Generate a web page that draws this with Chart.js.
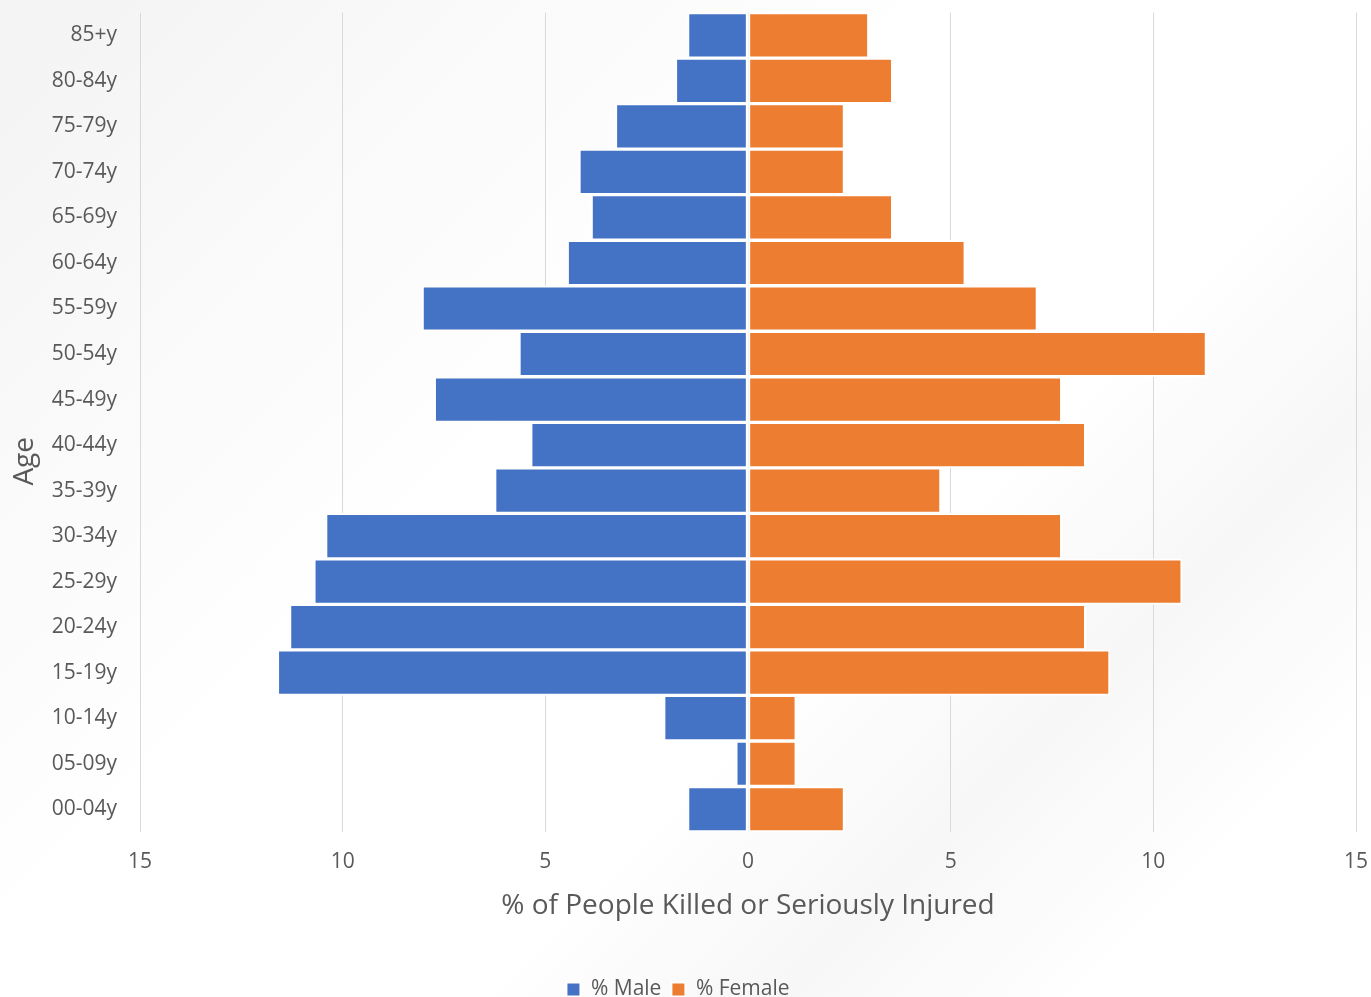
<!DOCTYPE html>
<html>
<head>
<meta charset="utf-8">
<script src="https://cdn.jsdelivr.net/npm/chart.js@4.4.1/dist/chart.umd.min.js"></script>
<style>
    html, body { margin: 0; padding: 0; overflow: hidden; }
    body {
        width: 1371px; height: 997px;
        background: linear-gradient(135deg, #f3f3f3 0%, #fafafa 22%, #ffffff 40%, #ffffff 62%, #f7f7f7 75%, #ffffff 88%);
    }
    #wrap { position: relative; width: 1371px; height: 1010px; }
</style>
</head>
<body>
<div id="wrap"><canvas id="pyramid"></canvas></div>
<script>
// age bands, youngest first (axis is reversed so 85+ sits on top)
const ageGroups = ["00-04y", "05-09y", "10-14y", "15-19y", "20-24y", "25-29y", "30-34y", "35-39y", "40-44y",
                   "45-49y", "50-54y", "55-59y", "60-64y", "65-69y", "70-74y", "75-79y", "80-84y", "85+y"];
const malePct   = [1.49, 0.30, 2.08, 11.61, 11.31, 10.71, 10.42, 6.25, 5.36, 7.74, 5.65, 8.04, 4.46, 3.87, 4.17, 3.27, 1.79, 1.49];
const femalePct = [2.38, 1.19, 1.19, 8.93, 8.33, 10.71, 7.74, 4.76, 8.33, 7.74, 11.31, 7.14, 5.36, 3.57, 2.38, 2.38, 3.57, 2.98];
const xTicks = [-15, -10, -5, 0, 5, 10, 15];

const textColor = "#595959";
const fontFamily = "'Open Sans', sans-serif";

// Excel places the vertical axis title a bit lower than the plot centre
const ageTitle = {
    id: "ageTitle",
    afterDraw(chart) {
        const ctx = chart.ctx;
        const area = chart.chartArea;
        ctx.save();
        ctx.translate(25, (area.top + area.bottom) / 2 + 39);
        ctx.rotate(-Math.PI / 2);
        ctx.fillStyle = textColor;
        ctx.font = "28px " + fontFamily;
        ctx.textAlign = "center";
        ctx.textBaseline = "middle";
        ctx.fillText("Age", 0, 0);
        ctx.restore();
    }
};

const ctx = document.getElementById("pyramid").getContext("2d");
new Chart(ctx, {
    type: "bar",
    data: {
        labels: ageGroups,
        datasets: [
            { label: "% Male", data: malePct.map(v => -v), backgroundColor: "#4472C4" },
            { label: "% Female", data: femalePct, backgroundColor: "#ED7D31" }
        ]
    },
    options: {
        indexAxis: "y",
        responsive: true,
        maintainAspectRatio: false,
        animation: false,
        layout: { padding: { top: 0, right: 15, left: 0, bottom: 0 } },
        datasets: {
            bar: { categoryPercentage: 1, barPercentage: 1, borderColor: "#ffffff", borderWidth: 2, borderSkipped: false }
        },
        plugins: {
            tooltip: { enabled: false },
            legend: {
                position: "bottom",
                labels: {
                    color: textColor,
                    font: { family: fontFamily, size: 21 },
                    boxWidth: 14, boxHeight: 14, padding: 10
                }
            }
        },
        scales: {
            x: {
                stacked: true,
                min: -15, max: 15,
                afterBuildTicks: s => { s.ticks = xTicks.map(v => ({ value: v })); },
                afterFit: s => { s.height = 137; },
                // invisible tick marks give the label gap without padding the plot edges
                grid: { color: "#d9d9d9", lineWidth: 1, drawTicks: true, tickLength: 17, tickColor: "rgba(0,0,0,0)" },
                border: { display: false },
                ticks: {
                    color: textColor, padding: 0, maxRotation: 0, autoSkip: false,
                    font: { family: fontFamily, size: 21 },
                    callback: v => Math.abs(v)
                },
                title: {
                    display: true,
                    text: "% of People Killed or Seriously Injured",
                    color: textColor,
                    font: { family: fontFamily, size: 28 },
                    padding: { top: 4, bottom: 46 }
                }
            },
            y: {
                stacked: true,
                reverse: true,
                afterFit: s => { s.width = 140; },
                grid: { display: false, drawTicks: true, tickLength: 23 },
                border: { display: false },
                ticks: {
                    color: textColor, padding: 0, autoSkip: false,
                    font: { family: fontFamily, size: 21 }
                }
            }
        }
    },
    plugins: [ageTitle]
});
</script>
</body>
</html>
